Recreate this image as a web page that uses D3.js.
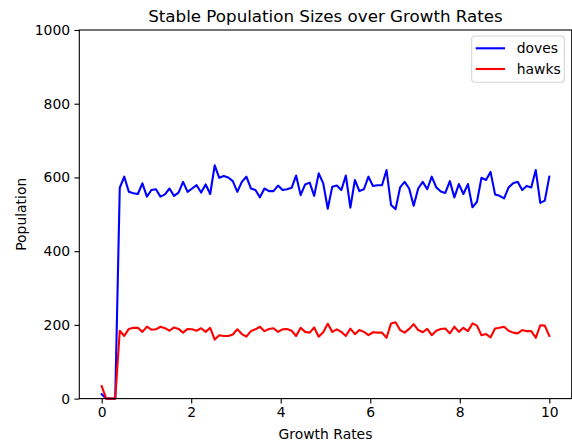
<!DOCTYPE html>
<html>
<head>
<meta charset="utf-8">
<script src="https://cdn.jsdelivr.net/npm/d3@7"></script>
<style>
  body { margin: 0; background: #fff; }
  text { font-family: "DejaVu Sans", sans-serif; fill: #000; }
</style>
</head>
<body>
<svg width="572" height="443"></svg>
<script>
const svg = d3.select('svg');
const width = +svg.attr('width');
const height = +svg.attr('height');

// population, one value per growth rate step (100 steps, 0..10)
const doves = [12, 0, 0, 0, 572, 602, 561, 557, 555, 584,
    548, 566, 568, 548, 554, 570, 550, 559, 588, 561,
    570, 579, 559, 581, 555, 633, 599, 604, 600, 590,
    561, 588, 602, 570, 566, 546, 570, 563, 563, 578,
    566, 568, 572, 605, 552, 581, 586, 550, 611, 584,
    515, 575, 578, 566, 605, 518, 593, 563, 568, 602,
    577, 579, 579, 620, 525, 514, 573, 588, 570, 523,
    570, 588, 568, 602, 573, 562, 558, 590, 546, 582,
    555, 582, 519, 534, 599, 593, 615, 554, 550, 543,
    573, 584, 588, 566, 577, 573, 620, 531, 537, 602];
const hawks = [34, 0, 0, 0, 184, 170, 189, 192, 192, 181,
    195, 187, 188, 195, 191, 184, 193, 189, 179, 189,
    188, 184, 191, 181, 192, 160, 172, 170, 170, 174,
    188, 175, 168, 183, 188, 195, 183, 189, 191, 181,
    188, 189, 184, 170, 192, 181, 179, 193, 168, 180,
    203, 181, 188, 181, 170, 190, 175, 186, 181, 172,
    180, 179, 179, 165, 204, 207, 186, 179, 189, 202,
    186, 180, 189, 172, 184, 189, 190, 177, 195, 181,
    192, 183, 204, 198, 172, 175, 166, 190, 192, 195,
    184, 179, 177, 186, 183, 183, 165, 199, 198, 170];
const xTicks = [0, 2, 4, 6, 8, 10];
const yTicks = [0, 200, 400, 600, 800, 1000];
const series = [
    {name: 'doves', color: 'blue', values: doves},
    {name: 'hawks', color: 'red', values: hawks}
];

// growth rates, evenly spaced like linspace(0, 10, 100)
const rates = d3.range(doves.length).map(i => i * 10 / (doves.length - 1));

const margin = {top: 30, right: 0.3, bottom: 44.4, left: 79.3};
const innerWidth = width - margin.left - margin.right;
const innerHeight = height - margin.top - margin.bottom;

const xScale = d3.scaleLinear().domain([-0.5, 10.5]).range([0, innerWidth]);
const yScale = d3.scaleLinear().domain([0, 1000]).range([innerHeight, 0]);

const g = svg.append('g')
    .attr('transform', `translate(${margin.left}, ${margin.top})`);

// lines
const line = d3.line()
    .x((d, i) => xScale(rates[i]))
    .y(d => yScale(d));

g.selectAll('path.series')
    .data(series)
    .enter().append('path')
        .attr('class', 'series')
        .attr('fill', 'none')
        .attr('stroke', d => d.color)
        .attr('stroke-width', 2.1)
        .attr('stroke-linejoin', 'round')
        .attr('stroke-linecap', 'square')
        .attr('d', d => line(d.values));

// axes
const xAxis = g.append('g')
    .attr('transform', `translate(0, ${innerHeight})`)
    .call(d3.axisBottom(xScale).tickValues(xTicks).tickFormat(d3.format('d'))
        .tickSize(4.9).tickPadding(3.2));
const yAxis = g.append('g')
    .call(d3.axisLeft(yScale).tickValues(yTicks).tickFormat(d3.format('d'))
        .tickSize(4.9).tickPadding(4.3));

[xAxis, yAxis].forEach(a => {
    a.attr('font-family', null).attr('font-size', null);
    a.select('.domain').remove();
    a.selectAll('line').attr('stroke', '#000').attr('stroke-width', 1.1);
    a.selectAll('text').attr('font-size', 13.9).attr('font-family', 'DejaVu Sans');
});

// frame
g.append('rect')
    .attr('width', innerWidth)
    .attr('height', innerHeight)
    .attr('fill', 'none')
    .attr('stroke', '#000')
    .attr('stroke-width', 1.1);

// title and labels
svg.append('text')
    .attr('x', margin.left + innerWidth / 2)
    .attr('y', 21.5)
    .attr('text-anchor', 'middle')
    .attr('font-size', 16.7)
    .text('Stable Population Sizes over Growth Rates');

svg.append('text')
    .attr('x', margin.left + innerWidth / 2)
    .attr('y', 438.5)
    .attr('text-anchor', 'middle')
    .attr('font-size', 13.9)
    .text('Growth Rates');

svg.append('text')
    .attr('transform', `translate(26, ${margin.top + innerHeight / 2}) rotate(-90)`)
    .attr('text-anchor', 'middle')
    .attr('font-size', 13.9)
    .text('Population');

// legend
const legend = svg.append('g').attr('transform', 'translate(471.7, 36)');
legend.append('rect')
    .attr('width', 92.6)
    .attr('height', 46.3)
    .attr('rx', 2.8)
    .attr('fill', '#fff')
    .attr('fill-opacity', 0.8)
    .attr('stroke', '#d5d5d5')
    .attr('stroke-width', 1.1);

const items = legend.selectAll('g.item')
    .data(series)
    .enter().append('g')
        .attr('class', 'item')
        .attr('transform', (d, i) => `translate(0, ${12.3 + i * 20.7})`);
items.append('line')
    .attr('x1', 4).attr('x2', 33.3)
    .attr('stroke', d => d.color)
    .attr('stroke-width', 2.1);
items.append('text')
    .attr('x', 45)
    .attr('dy', '0.35em')
    .attr('font-size', 13.9)
    .text(d => d.name);
</script>
</body>
</html>
